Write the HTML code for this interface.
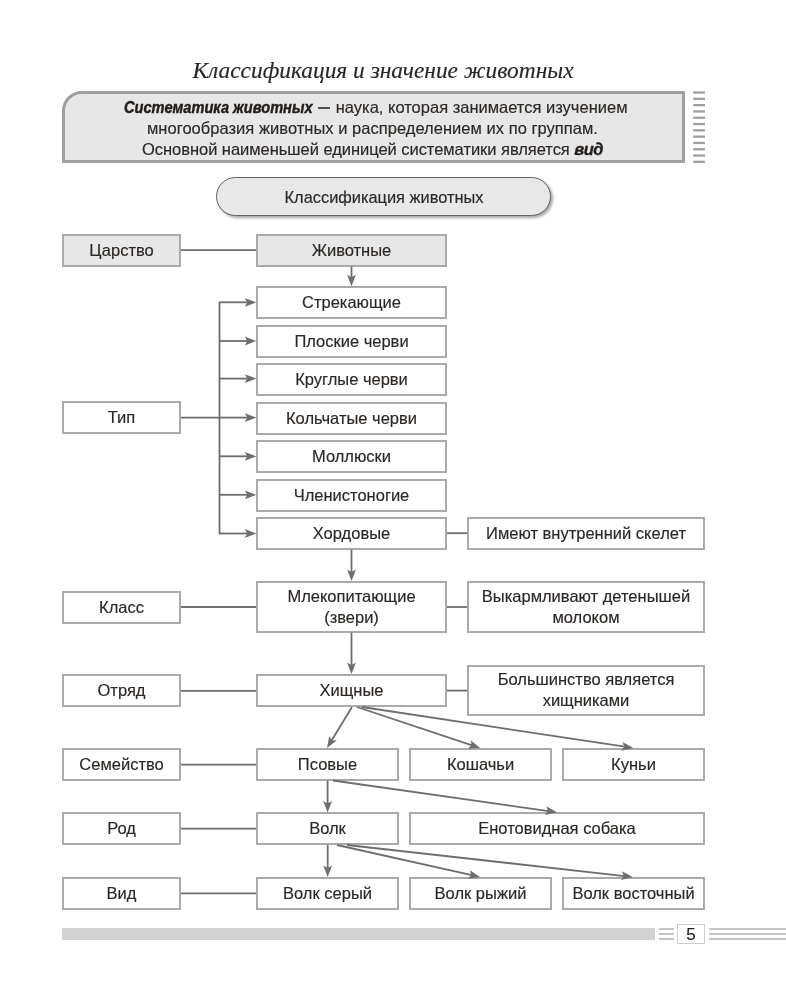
<!DOCTYPE html>
<html><head><meta charset="utf-8">
<style>
html,body{margin:0;padding:0;background:#fff;}
body{width:786px;height:1000px;position:relative;overflow:hidden;will-change:transform;font-family:"Liberation Sans",sans-serif;color:#2b2724;-webkit-text-stroke:0.15px #2b2724;}
.t{position:absolute;white-space:nowrap;}
.title{left:-10px;width:786px;top:56px;text-align:center;font-family:"Liberation Serif",serif;font-style:italic;font-size:23.4px;line-height:28px;color:#2b2724;}
.info{position:absolute;left:62px;top:91px;width:623px;height:72px;box-sizing:border-box;border:3px solid #a09f9b;border-top-left-radius:20px;background:#e7e7e7;}
.info .ln{position:absolute;white-space:nowrap;font-size:16.5px;line-height:20px;}
.bi{font-style:italic;font-weight:bold;-webkit-text-stroke:0.45px #221e1b;color:#221e1b;display:inline-block;transform:scaleX(0.885);transform-origin:0 0;margin-right:-24.3px;}
.dash{display:inline-block;width:12px;height:1.6px;background:#55504b;vertical-align:4.5px;margin:0 6px 0 5px;}
.bi2{font-style:italic;font-weight:bold;letter-spacing:-0.6px;-webkit-text-stroke:0.3px #221e1b;color:#221e1b;}
.stripe{position:absolute;left:693px;width:12px;height:2.3px;background:#9c9c98;}
.pill{position:absolute;left:216px;top:177px;width:335px;height:39px;box-sizing:border-box;border:1.3px solid #66625e;border-radius:20px;background:#e8e8e8;box-shadow:2px 2px 3px rgba(0,0,0,0.35);font-size:16.4px;padding-left:1px;padding-top:2px;display:flex;align-items:center;justify-content:center;}
.b{position:absolute;box-sizing:border-box;border:2px solid #aaaaa6;background:#fff;display:flex;align-items:center;justify-content:center;text-align:center;font-size:16.5px;line-height:21px;padding-bottom:1px;}
.g{background:#e7e7e7;}
svg{position:absolute;left:0;top:0;}
.foot{position:absolute;left:62px;top:928px;width:593px;height:12px;background:#d2d2d2;}
.fl{position:absolute;height:1.7px;background:#c4c4c4;}
.pg{position:absolute;left:677px;top:924px;width:28px;height:20px;box-sizing:border-box;border:1px solid #cdcdcd;background:#fff;font-size:17px;line-height:20px;padding-top:1px;display:flex;align-items:center;justify-content:center;color:#222;}
</style></head>
<body>
<div class="t title">Классификация и значение животных</div>

<div class="info">
  <div class="ln" style="top:3px;left:59px"><b class="bi">Систематика животных</b><span class="dash"></span>наука, которая занимается изучением</div>
  <div class="ln" style="top:23.8px;left:82px;letter-spacing:0.03px">многообразия животных и распределением их по группам.</div>
  <div class="ln" style="top:44.6px;left:77px;letter-spacing:-0.04px">Основной наименьшей единицей систематики является <b class="bi2">вид</b></div>
</div>

<svg width="786" height="200" style="position:absolute;left:0;top:0"><g fill="#a09f9b"><rect x="693.2" y="91.40" width="11.8" height="2.3"/><rect x="693.2" y="97.70" width="11.8" height="2.3"/><rect x="693.2" y="104.00" width="11.8" height="2.3"/><rect x="693.2" y="110.30" width="11.8" height="2.3"/><rect x="693.2" y="116.60" width="11.8" height="2.3"/><rect x="693.2" y="122.90" width="11.8" height="2.3"/><rect x="693.2" y="129.20" width="11.8" height="2.3"/><rect x="693.2" y="135.50" width="11.8" height="2.3"/><rect x="693.2" y="141.80" width="11.8" height="2.3"/><rect x="693.2" y="148.10" width="11.8" height="2.3"/><rect x="693.2" y="154.40" width="11.8" height="2.3"/><rect x="693.2" y="160.70" width="11.8" height="2.3"/></g></svg>
<div class="pill">Классификация животных</div>

<!-- left column -->
<div class="b g" style="left:62px;top:234px;width:119px;height:33px">Царство</div>
<div class="b" style="left:62px;top:401px;width:119px;height:33px">Тип</div>
<div class="b" style="left:62px;top:591px;width:119px;height:33px">Класс</div>
<div class="b" style="left:62px;top:674px;width:119px;height:33px">Отряд</div>
<div class="b" style="left:62px;top:748px;width:119px;height:33px">Семейство</div>
<div class="b" style="left:62px;top:812px;width:119px;height:33px">Род</div>
<div class="b" style="left:62px;top:877px;width:119px;height:33px">Вид</div>

<!-- middle column -->
<div class="b g" style="left:256px;top:234px;width:191px;height:33px">Животные</div>
<div class="b" style="left:256px;top:286px;width:191px;height:33px">Стрекающие</div>
<div class="b" style="left:256px;top:325px;width:191px;height:33px">Плоские черви</div>
<div class="b" style="left:256px;top:363px;width:191px;height:33px">Круглые черви</div>
<div class="b" style="left:256px;top:402px;width:191px;height:33px">Кольчатые черви</div>
<div class="b" style="left:256px;top:440px;width:191px;height:33px">Моллюски</div>
<div class="b" style="left:256px;top:479px;width:191px;height:33px">Членистоногие</div>
<div class="b" style="left:256px;top:517px;width:191px;height:33px">Хордовые</div>
<div class="b" style="left:256px;top:581px;width:191px;height:52px">Млекопитающие<br>(звери)</div>
<div class="b" style="left:256px;top:674px;width:191px;height:33px">Хищные</div>
<div class="b" style="left:256px;top:748px;width:143px;height:33px">Псовые</div>
<div class="b" style="left:256px;top:812px;width:143px;height:33px">Волк</div>
<div class="b" style="left:256px;top:877px;width:143px;height:33px">Волк серый</div>

<!-- right -->
<div class="b" style="left:467px;top:517px;width:238px;height:33px">Имеют внутренний скелет</div>
<div class="b" style="left:467px;top:581px;width:238px;height:52px">Выкармливают детенышей<br>молоком</div>
<div class="b" style="left:467px;top:665px;width:238px;height:51px">Большинство является<br>хищниками</div>
<div class="b" style="left:409px;top:748px;width:143px;height:33px">Кошачьи</div>
<div class="b" style="left:562px;top:748px;width:143px;height:33px">Куньи</div>
<div class="b" style="left:409px;top:812px;width:296px;height:33px">Енотовидная собака</div>
<div class="b" style="left:409px;top:877px;width:143px;height:33px">Волк рыжий</div>
<div class="b" style="left:562px;top:877px;width:143px;height:33px">Волк восточный</div>

<style>.ah{fill:#6d6d6b;stroke:none}</style>
<svg width="786" height="1000" viewBox="0 0 786 1000">
  <g stroke="#6d6d6b" stroke-width="1.8" fill="none">
    <line x1="181" y1="250.2" x2="256" y2="250.2"/>
    <line x1="181" y1="417.6" x2="219.5" y2="417.6"/>
    <line x1="181" y1="607" x2="256" y2="607"/>
    <line x1="181" y1="690.8" x2="256" y2="690.8"/>
    <line x1="181" y1="764.7" x2="256" y2="764.7"/>
    <line x1="181" y1="828.7" x2="256" y2="828.7"/>
    <line x1="181" y1="893.3" x2="256" y2="893.3"/>
    <line x1="447" y1="533.2" x2="467" y2="533.2"/>
    <line x1="447" y1="607" x2="467" y2="607"/>
    <line x1="447" y1="690.6" x2="467" y2="690.6"/>
    <line x1="219.5" y1="301.7" x2="219.5" y2="534.3"/>
  </g>
  <g stroke="#6d6d6b" stroke-width="1.8" fill="none">
<line x1="351.50" y1="266.50" x2="351.50" y2="277.80"/><path class="ah" d="M351.50,286.30L347.10,274.80L351.50,277.30L355.90,274.80Z"/>
<line x1="351.50" y1="549.50" x2="351.50" y2="572.50"/><path class="ah" d="M351.50,581.00L347.10,569.50L351.50,572.00L355.90,569.50Z"/>
<line x1="351.50" y1="632.50" x2="351.50" y2="665.50"/><path class="ah" d="M351.50,674.00L347.10,662.50L351.50,665.00L355.90,662.50Z"/>
<line x1="352.00" y1="707.00" x2="331.43" y2="740.74"/><path class="ah" d="M327.00,748.00L329.23,735.89L331.69,740.32L336.74,740.47Z"/>
<line x1="357.00" y1="707.00" x2="472.13" y2="745.32"/><path class="ah" d="M480.20,748.00L467.90,748.54L471.66,745.16L470.68,740.19Z"/>
<line x1="362.00" y1="707.00" x2="624.80" y2="746.73"/><path class="ah" d="M633.20,748.00L621.17,750.63L624.30,746.65L622.49,741.93Z"/>
<line x1="327.60" y1="780.50" x2="327.60" y2="804.00"/><path class="ah" d="M327.60,812.50L323.20,801.00L327.60,803.50L332.00,801.00Z"/>
<line x1="333.00" y1="780.50" x2="548.58" y2="811.11"/><path class="ah" d="M557.00,812.30L545.00,815.04L548.09,811.04L546.23,806.33Z"/>
<line x1="327.70" y1="845.00" x2="327.70" y2="868.50"/><path class="ah" d="M327.70,877.00L323.30,865.50L327.70,868.00L332.10,865.50Z"/>
<line x1="337.00" y1="845.00" x2="471.80" y2="875.15"/><path class="ah" d="M480.10,877.00L467.92,878.78L471.32,875.04L469.84,870.20Z"/>
<line x1="347.00" y1="845.00" x2="624.35" y2="876.05"/><path class="ah" d="M632.80,877.00L620.88,880.09L623.86,876.00L621.86,871.35Z"/>
<line x1="219.50" y1="302.30" x2="247.80" y2="302.30"/><path class="ah" d="M256.30,302.30L244.80,306.70L247.30,302.30L244.80,297.90Z"/>
<line x1="219.50" y1="341.00" x2="247.80" y2="341.00"/><path class="ah" d="M256.30,341.00L244.80,345.40L247.30,341.00L244.80,336.60Z"/>
<line x1="219.50" y1="378.60" x2="247.80" y2="378.60"/><path class="ah" d="M256.30,378.60L244.80,383.00L247.30,378.60L244.80,374.20Z"/>
<line x1="219.50" y1="417.60" x2="247.80" y2="417.60"/><path class="ah" d="M256.30,417.60L244.80,422.00L247.30,417.60L244.80,413.20Z"/>
<line x1="219.50" y1="456.30" x2="247.80" y2="456.30"/><path class="ah" d="M256.30,456.30L244.80,460.70L247.30,456.30L244.80,451.90Z"/>
<line x1="219.50" y1="494.80" x2="247.80" y2="494.80"/><path class="ah" d="M256.30,494.80L244.80,499.20L247.30,494.80L244.80,490.40Z"/>
<line x1="219.50" y1="533.50" x2="247.80" y2="533.50"/><path class="ah" d="M256.30,533.50L244.80,537.90L247.30,533.50L244.80,529.10Z"/>

  </g>
</svg>

<div class="foot"></div>
<div class="fl" style="left:659px;width:15px;top:928.2px"></div>
<div class="fl" style="left:659px;width:15px;top:933.1px"></div>
<div class="fl" style="left:659px;width:15px;top:938px"></div>
<div class="pg">5</div>
<div class="fl" style="left:709px;width:77px;top:928.2px"></div>
<div class="fl" style="left:709px;width:77px;top:933.1px"></div>
<div class="fl" style="left:709px;width:77px;top:938px"></div>
</body></html>
